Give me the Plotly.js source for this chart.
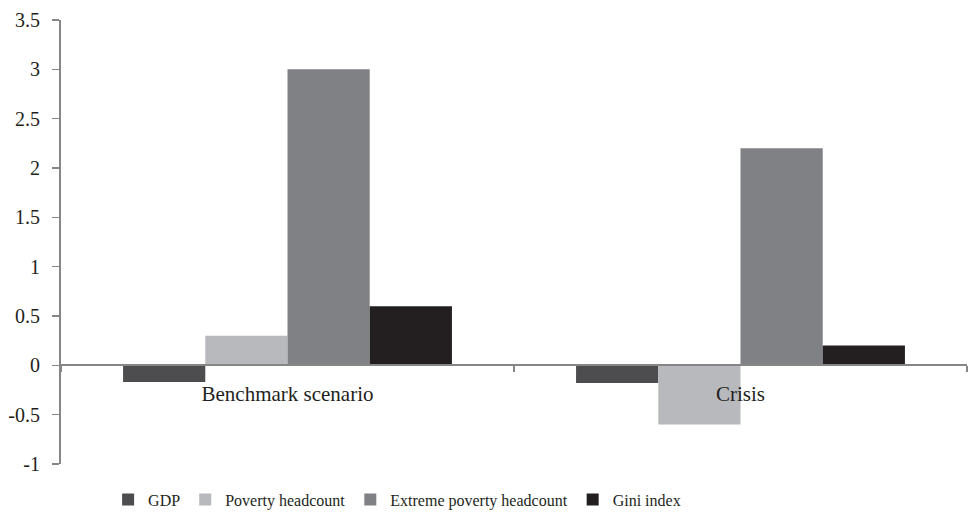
<!DOCTYPE html>
<html>
<head>
<meta charset="utf-8">
<script src="https://cdn.plot.ly/plotly-3.0.1.min.js"></script>
<style>html,body{margin:0;padding:0;background:#fff;}#chart{width:968px;height:521px;}</style>
</head>
<body>
<div id="chart"></div>
<script>
const categories = ["Benchmark scenario", "Crisis"];
const seriesNames = ["GDP", "Poverty headcount", "Extreme poverty headcount", "Gini index"];
const gdp = [-0.17, -0.18];
const povertyHeadcount = [0.3, -0.6];
const extremePovertyHeadcount = [3.0, 2.2];
const giniIndex = [0.6, 0.2];
const yTickValues = [-1, -0.5, 0, 0.5, 1, 1.5, 2, 2.5, 3, 3.5];
const yTickLabels = ["-1", "-0.5", "0", "0.5", "1", "1.5", "2", "2.5", "3", "3.5"];

const colors = ["#4d4d4f", "#b8b9bc", "#808184", "#231f20"];
const values = [gdp, povertyHeadcount, extremePovertyHeadcount, giniIndex];

const traces = seriesNames.map((name, i) => ({
  type: "bar",
  name: name,
  x: categories,
  y: values[i],
  marker: {color: colors[i], line: {width: 0}},
  hoverinfo: "none"
}));

const fontFamily = "Liberation Serif";
const textColor = "#231f20";
const axisColor = "#868686";

const layout = {
  width: 968,
  height: 521,
  margin: {l: 61, r: 1, t: 20, b: 57, pad: 0},
  paper_bgcolor: "#ffffff",
  plot_bgcolor: "#ffffff",
  barmode: "group",
  bargap: 0.274,
  bargroupgap: 0,
  font: {family: fontFamily, color: textColor, size: 18},
  showlegend: true,
  legend: {
    orientation: "h",
    x: 0.052, xanchor: "left",
    y: -0.08, yanchor: "middle",
    font: {family: fontFamily, size: 16, color: textColor},
    itemwidth: 30,
    traceorder: "normal"
  },
  xaxis: {
    type: "category",
    anchor: "free",
    position: 1 / 4.5,
    showline: true,
    linecolor: axisColor,
    linewidth: 2,
    ticks: "outside",
    tickson: "boundaries",
    ticklen: 6,
    tickcolor: axisColor,
    tickwidth: 1.5,
    ticklabelstandoff: 9,
    showgrid: false,
    zeroline: false,
    tickfont: {family: fontFamily, size: 21, color: textColor}
  },
  yaxis: {
    range: [-1, 3.5],
    tickvals: yTickValues,
    ticktext: yTickLabels,
    showline: true,
    linecolor: axisColor,
    linewidth: 2,
    ticks: "outside",
    ticklen: 7,
    tickcolor: axisColor,
    tickwidth: 1.5,
    ticklabelstandoff: 8,
    showgrid: false,
    zeroline: false,
    tickfont: {family: fontFamily, size: 20, color: textColor}
  }
};

Plotly.newPlot("chart", traces, layout, {staticPlot: true, displayModeBar: false});
</script>
</body>
</html>
